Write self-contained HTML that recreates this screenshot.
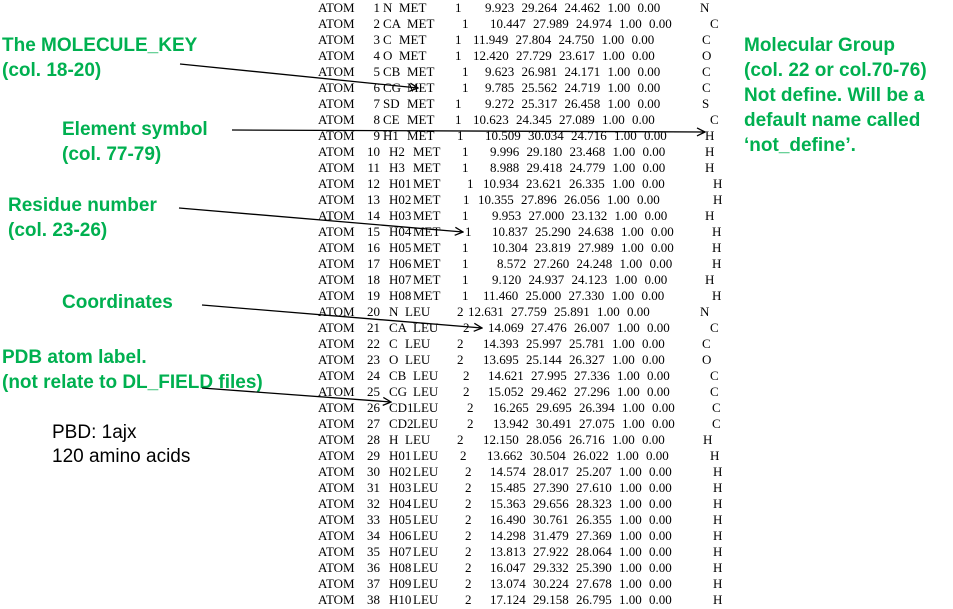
<!DOCTYPE html>
<html><head><meta charset="utf-8"><style>
body{margin:0;width:953px;height:609px;background:#fff;position:relative;overflow:hidden}
.g{position:absolute;font-family:"Liberation Sans",sans-serif;font-weight:bold;font-size:19px;color:#00b050;line-height:25px;white-space:nowrap}
.k{position:absolute;font-family:"Liberation Sans",sans-serif;font-size:19px;color:#000;line-height:24px;white-space:nowrap}
.t{position:absolute;font-family:"Liberation Serif",serif;font-size:13px;color:#000;line-height:14px;white-space:nowrap}
.c{word-spacing:4px}
svg{position:absolute;left:0;top:0}
</style></head><body>
<div id="pdb"></div>
<div class="g" style="left:2px;top:33px">The MOLECULE_KEY<br>(col. 18-20)</div>
<div class="g" style="left:62px;top:117px">Element symbol<br>(col. 77-79)</div>
<div class="g" style="left:8px;top:193px">Residue number<br>(col. 23-26)</div>
<div class="g" style="left:62px;top:290px">Coordinates</div>
<div class="g" style="left:2px;top:345px">PDB atom label.<br>(not relate to DL_FIELD files)</div>
<div class="k" style="left:52px;top:421px">PBD: 1ajx<br>120 amino acids</div>
<div class="g" style="left:744px;top:33px">Molecular Group<br>(col. 22 or col.70-76)<br>Not define. Will be a<br>default name called<br>‘not_define’.</div>
<svg width="953" height="609">
<defs><marker id="a" markerWidth="10" markerHeight="10" refX="9" refY="5" orient="auto" markerUnits="userSpaceOnUse"><path d="M1,1 L9,5 L1,9" fill="none" stroke="#000" stroke-width="1.3"/></marker></defs>
<g stroke="#000" stroke-width="1.3" fill="none" marker-end="url(#a)">
<line x1="180" y1="64" x2="418" y2="88"/>
<line x1="232" y1="130" x2="705" y2="132"/>
<line x1="179" y1="208" x2="463" y2="232"/>
<line x1="202" y1="305" x2="482" y2="328"/>
<line x1="202" y1="388" x2="391" y2="402"/>
</g></svg>
<script>
var d=[
[1,"N","MET",1,455,485,700,"9.923 29.264 24.462","N"],
[2,"CA","MET",1,462,490,710,"10.447 27.989 24.974","C"],
[3,"C","MET",1,455,473,702,"11.949 27.804 24.750","C"],
[4,"O","MET",1,455,473,702,"12.420 27.729 23.617","O"],
[5,"CB","MET",1,462,485,702,"9.623 26.981 24.171","C"],
[6,"CG","MET",1,462,485,702,"9.785 25.562 24.719","C"],
[7,"SD","MET",1,455,485,702,"9.272 25.317 26.458","S"],
[8,"CE","MET",1,455,473,710,"10.623 24.345 27.089","C"],
[9,"H1","MET",1,457,485,705,"10.509 30.034 24.716","H"],
[10,"H2","MET",1,462,490,705,"9.996 29.180 23.468","H"],
[11,"H3","MET",1,462,490,705,"8.988 29.418 24.779","H"],
[12,"H01","MET",1,467,483,713,"10.934 23.621 26.335","H"],
[13,"H02","MET",1,463,478,713,"10.355 27.896 26.056","H"],
[14,"H03","MET",1,462,492,705,"9.953 27.000 23.132","H"],
[15,"H04","MET",1,465,492,712,"10.837 25.290 24.638","H"],
[16,"H05","MET",1,462,492,712,"10.304 23.819 27.989","H"],
[17,"H06","MET",1,462,497,712,"8.572 27.260 24.248","H"],
[18,"H07","MET",1,462,492,705,"9.120 24.937 24.123","H"],
[19,"H08","MET",1,462,483,712,"11.460 25.000 27.330","H"],
[20,"N","LEU",2,457,468,700,"12.631 27.759 25.891","N"],
[21,"CA","LEU",2,463,488,710,"14.069 27.476 26.007","C"],
[22,"C","LEU",2,457,483,702,"14.393 25.997 25.781","C"],
[23,"O","LEU",2,457,483,702,"13.695 25.144 26.327","O"],
[24,"CB","LEU",2,463,488,710,"14.621 27.995 27.336","C"],
[25,"CG","LEU",2,463,488,710,"15.052 29.462 27.296","C"],
[26,"CD1","LEU",2,467,493,712,"16.265 29.695 26.394","C"],
[27,"CD2","LEU",2,467,493,712,"13.942 30.491 27.075","C"],
[28,"H","LEU",2,457,483,703,"12.150 28.056 26.716","H"],
[29,"H01","LEU",2,460,487,710,"13.662 30.504 26.022","H"],
[30,"H02","LEU",2,465,490,713,"14.574 28.017 25.207","H"],
[31,"H03","LEU",2,465,490,713,"15.485 27.390 27.610","H"],
[32,"H04","LEU",2,465,490,713,"15.363 29.656 28.323","H"],
[33,"H05","LEU",2,465,490,713,"16.490 30.761 26.355","H"],
[34,"H06","LEU",2,465,490,713,"14.298 31.479 27.369","H"],
[35,"H07","LEU",2,465,490,713,"13.813 27.922 28.064","H"],
[36,"H08","LEU",2,465,490,713,"16.047 29.332 25.390","H"],
[37,"H09","LEU",2,465,490,713,"13.074 30.224 27.678","H"],
[38,"H10","LEU",2,465,490,713,"17.124 29.158 26.795","H"]];
var h="";
d.forEach(function(r,i){var y=1+16*i;
function s(x,t,cl){h+='<div class="t'+(cl||'')+'" style="left:'+x+'px;top:'+y+'px">'+t+'</div>';}
s(318,"ATOM");
h+='<div class="t" style="left:340px;width:40px;text-align:right;top:'+y+'px">'+r[0]+'</div>';
var nx=r[0]<10?383:389;
s(nx,r[1]);
var rx=r[1].length==1?nx+16:(r[1].length==2?nx+24:nx+24);
s(rx,r[2]);
s(r[4],r[3]);
s(r[5],r[7]+" 1.00 0.00"," c");
s(r[6],r[8]);
});
document.getElementById("pdb").innerHTML=h;
</script>
</body></html>
